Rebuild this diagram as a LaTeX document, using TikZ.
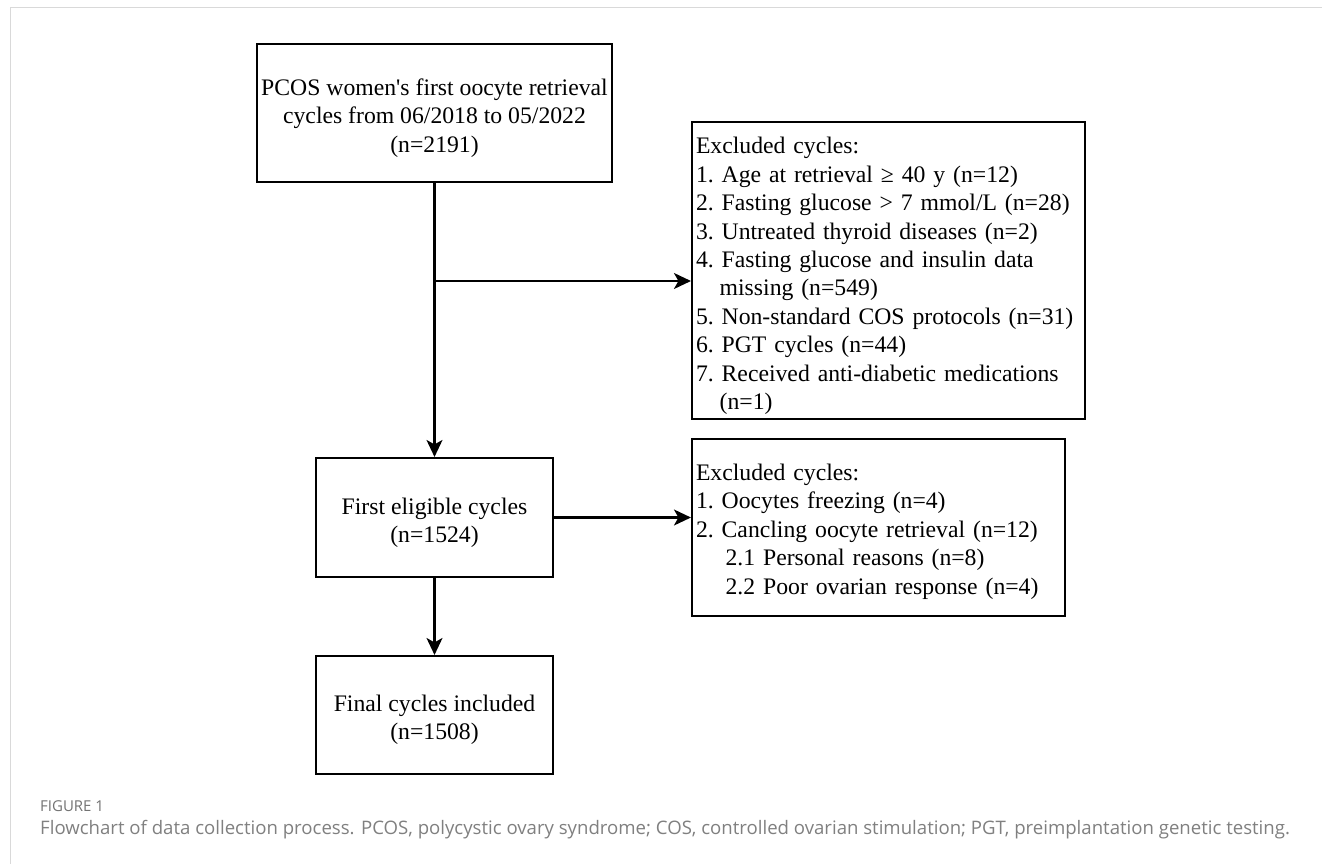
\documentclass[tikz,border=0pt]{standalone}
\usepackage{fontspec}
\setmainfont{Liberation Serif}
\newfontfamily\capfont{Open Sans}
\usetikzlibrary{arrows.meta}
\begin{document}
\begin{tikzpicture}[x=1pt,y=-1pt,
  box/.style={draw=black,line width=2.1pt,inner sep=0pt},
  txt/.style={inner xsep=4pt,inner ysep=0pt,
    font=\frenchspacing\fontsize{23.7}{28.4}\selectfont},
  ctxt/.style={txt,align=center},
  ltxt/.style={txt,align=left},
  arr/.style={line width=2.1pt,-{Stealth[length=17pt,width=16pt,inset=4.5pt]}},
  frame/.style={draw=black!15,line width=1pt}]
\useasboundingbox[fill=white] (0,0) rectangle (1322,864);
\draw[frame] (10,864) -- (10,8) -- (1322,8);

% boxes
\node[box,minimum width=355pt,minimum height=138pt] (b1) at (434.5,113) {};
\node[box,minimum width=393pt,minimum height=297pt] (b2) at (888.5,270.5) {};
\node[box,minimum width=237pt,minimum height=119pt] (b4) at (434.5,517.5) {};
\node[box,minimum width=373pt,minimum height=177pt] (b3) at (878.5,527.5) {};
\node[box,minimum width=237pt,minimum height=118pt] (b5) at (434.5,715) {};

% texts
\node[ctxt] (t1) at ([yshift=-5pt]b1.center)
  {PCOS women\textquotesingle s first oocyte retrieval\\cycles from 06/2018 to 05/2022\\(n=2191)};
\node[ltxt,text width=385pt] (t2) at ([yshift=-5.5pt]b2.center)
  {Excluded cycles:\\
   1. Age at retrieval ≥ 40 y (n=12)\\
   2. Fasting glucose > 7 mmol/L (n=28)\\
   3. Untreated thyroid diseases (n=2)\\
   4. Fasting glucose and insulin data\\
   \hspace*{1em}missing (n=549)\\
   5. Non-standard COS protocols (n=31)\\
   6. PGT cycles (n=44)\\
   7. Received anti-diabetic medications\\
   \hspace*{1em}(n=1)};
\node[ctxt] (t4) at ([yshift=-5pt]b4.center) {First eligible cycles\\(n=1524)};
\node[ltxt,text width=365pt] (t3) at ([yshift=-4pt]b3.center)
  {Excluded cycles:\\
   1. Oocytes freezing (n=4)\\
   2. Cancling oocyte retrieval (n=12)\\
   \hspace*{1.25em}2.1 Personal reasons (n=8)\\
   \hspace*{1.25em}2.2 Poor ovarian response (n=4)};
\node[ctxt] (t5) at ([yshift=-5pt]b5.center) {Final cycles included\\(n=1508)};

% connectors
\coordinate (br) at (434.5,281);
\draw[arr] (b1.south) -- (b4.north);
\draw[arr] (br) -- (br -| b2.west);
\draw[arr] (b4.east) -- (b4.east -| b3.west);
\draw[arr] (b4.south) -- (b5.north);

% caption
\node[anchor=west,inner sep=0pt,text=black!55,font=\capfont\fontsize{15}{17}\selectfont] (fig) at (40,806) {FIGURE 1};
\node[anchor=west,inner sep=0pt,text=black!50,font=\capfont\fontsize{18.6}{20}\selectfont] (cap) at (40,830)
  {Flowchart of data collection process. PCOS, polycystic ovary syndrome; COS, controlled ovarian stimulation; PGT, preimplantation genetic testing.};
\end{tikzpicture}
\end{document}
